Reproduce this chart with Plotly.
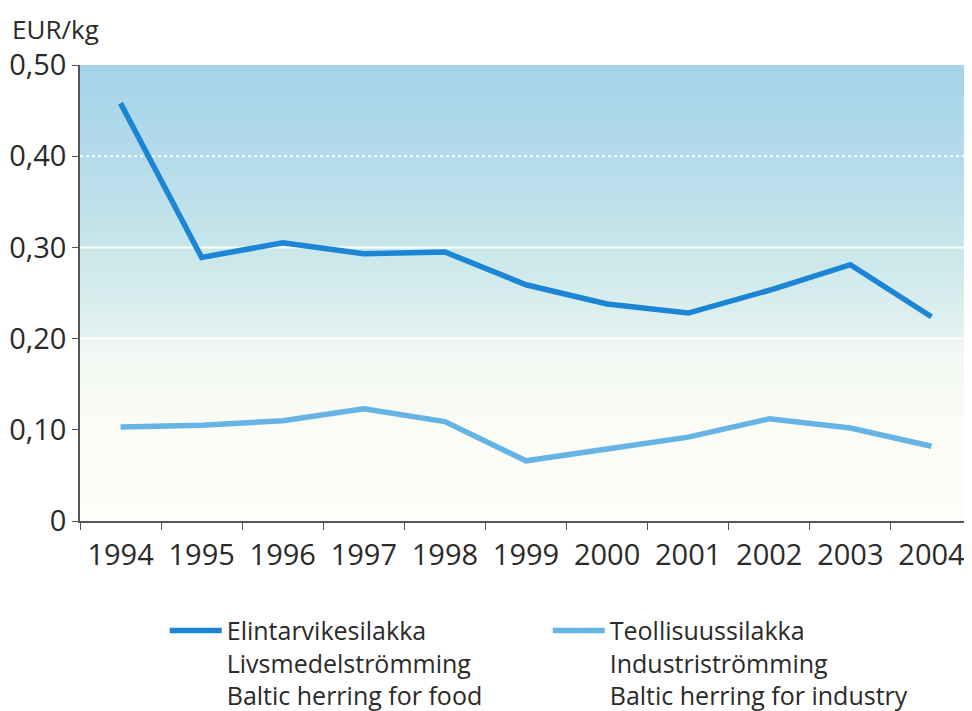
import plotly.graph_objects as go
import numpy as np

years = ["1994", "1995", "1996", "1997", "1998", "1999", "2000", "2001", "2002", "2003", "2004"]
food = [0.458, 0.289, 0.305, 0.293, 0.295, 0.259, 0.238, 0.228, 0.253, 0.281, 0.224]
industry = [0.103, 0.105, 0.110, 0.123, 0.109, 0.066, 0.079, 0.092, 0.112, 0.102, 0.082]
food_name = "Elintarvikesilakka<br>Livsmedelströmming<br>Baltic herring for food"
industry_name = "Teollisuussilakka<br>Industriströmming<br>Baltic herring for industry"
y_tickvals = [0, 0.1, 0.2, 0.3, 0.4, 0.5]
y_ticktext = ["0", "0,10", "0,20", "0,30", "0,40", "0,50"]

FONT = "Open Sans"
TXT = "#2a2a28"

fig = go.Figure()
fig.add_trace(go.Scatter(x=years, y=food, mode="lines", name=food_name,
                         line=dict(color="#1c86d4", width=5.5)))
fig.add_trace(go.Scatter(x=years, y=industry, mode="lines", name=industry_name,
                         line=dict(color="#66b3e6", width=5.5)))

# background gradient (style)
stops = [(0.0, (253, 253, 249)), (0.10, (251, 252, 246)), (0.195, (240, 247, 242)),
         (0.20, (228, 242, 240)), (0.30, (200, 230, 234)), (0.40, (180, 219, 235)),
         (0.50, (166, 210, 234))]
sy = [s[0] for s in stops]
shapes = []
n = 100
step = 0.5 / n
for i in range(n):
    y0 = step * i
    y1 = min(0.5, y0 + step * 1.8)
    ym = y0 + step / 2
    c = [int(round(np.interp(ym, sy, [s[1][k] for s in stops]))) for k in range(3)]
    shapes.append(dict(type="rect", xref="paper", yref="y", x0=0, x1=1, y0=y0, y1=y1,
                       fillcolor=f"rgb({c[0]},{c[1]},{c[2]})", line=dict(width=0), layer="below"))
# gridlines
for gv, dash in [(0.2, "solid"), (0.3, "solid"), (0.4, "dot")]:
    shapes.append(dict(type="line", xref="paper", yref="y", x0=0, x1=1, y0=gv, y1=gv,
                       line=dict(color="white", width=2, dash=dash), layer="below"))

fig.update_layout(
    width=964, height=703,
    margin=dict(l=72, r=0, t=57, b=190, autoexpand=False),
    paper_bgcolor="white", plot_bgcolor="white",
    shapes=shapes,
    font=dict(family=FONT, color=TXT),
    xaxis=dict(type="category", range=[-0.5, 10.5], showgrid=False,
               ticks="outside", tickson="boundaries", ticklen=7, tickcolor="#555",
               showline=True, linecolor="#555", linewidth=1.5, ticklabelstandoff=7,
               tickfont=dict(size=29, family=FONT, color=TXT)),
    yaxis=dict(range=[0, 0.5], tickvals=y_tickvals, ticktext=y_ticktext, showgrid=False,
               ticks="outside", ticklen=6, tickcolor="#555", zeroline=False,
               showline=True, linecolor="#555", linewidth=1.5,
               tickfont=dict(size=29, family=FONT, color=TXT)),
    legend=dict(orientation="h", x=0.095, xanchor="left", y=-0.19, yanchor="top",
                valign="top", entrywidth=316, entrywidthmode="pixels",
                font=dict(size=25, family=FONT, color=TXT), bgcolor="rgba(0,0,0,0)",
                tracegroupgap=0, itemwidth=52),
    showlegend=True,
    annotations=[dict(text="EUR/kg", xref="paper", yref="paper", x=-0.078, y=1.0,
                      xanchor="left", yanchor="bottom", yshift=16, showarrow=False,
                      font=dict(size=26, family=FONT, color=TXT))],
)
fig.write_html("out.html")
